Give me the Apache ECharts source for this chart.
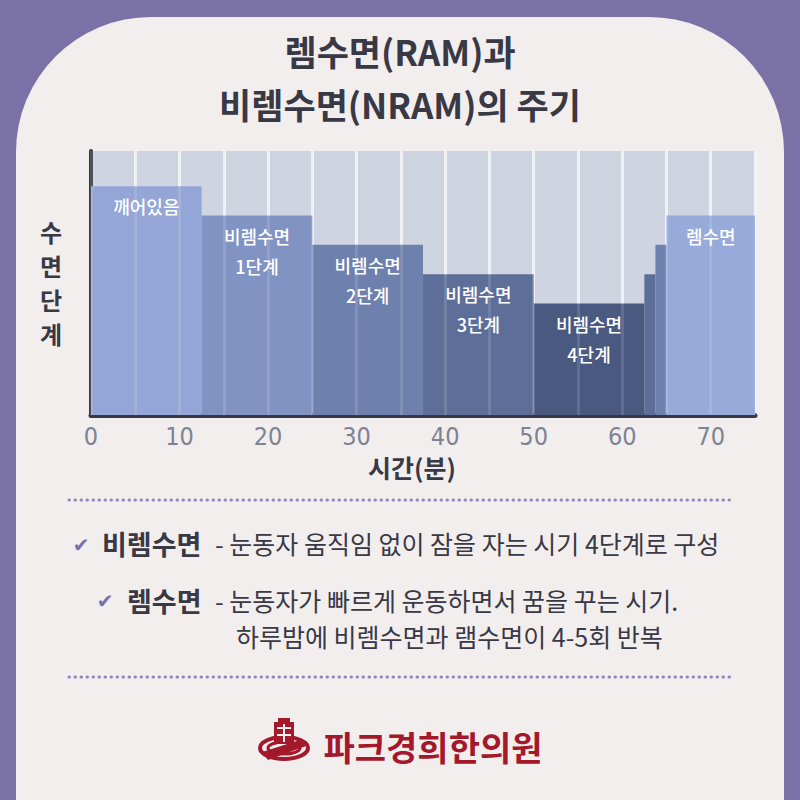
<!DOCTYPE html>
<html>
<head>
<meta charset="utf-8">
<script src="https://cdn.jsdelivr.net/npm/echarts@6/dist/echarts.min.js"></script>
<style>
  html, body { margin: 0; padding: 0; background: #7a71a7; }
  #chart { width: 800px; height: 800px; }
</style>
</head>
<body>
<div id="chart"></div>
<script>
// sleep stages over time (minutes)
var stageStart = [0, 12.5, 25, 37.5, 50, 62.5, 63.75, 65];
var stageEnd = [12.5, 25, 37.5, 50, 62.5, 63.75, 65, 75];
var stageLevel = [7.8, 6.8, 5.8, 4.8, 3.8, 4.8, 5.8, 6.8];
var stageLabel = ['깨어있음', '비렘수면\n1단계', '비렘수면\n2단계', '비렘수면\n3단계', '비렘수면\n4단계', '', '', '렘수면'];
var stageColor = ['#93a6d7', '#8193c3', '#6e80ad', '#5d6e98', '#4a5980', '#5d6e98', '#6e80ad', '#97abdb'];

var dark = '#393945';
var logoRed = '#a3192b';
var textFont = '"Noto Sans CJK KR", "Noto Sans", sans-serif';

var myChart = echarts.init(document.getElementById('chart'), null, { renderer: 'svg' });

var data = stageStart.map(function (s, i) {
    return [s, stageEnd[i], stageLevel[i]];
});

function renderItem(params, api) {
    var i = params.dataIndex;
    var topLeft = api.coord([api.value(0), api.value(2)]);
    var bottomRight = api.coord([api.value(1), 0]);
    var w = bottomRight[0] - topLeft[0];
    var children = [{
        type: 'rect',
        shape: { x: topLeft[0], y: topLeft[1], width: w, height: bottomRight[1] - topLeft[1] },
        style: { fill: stageColor[i] }
    }];
    if (stageLabel[i]) {
        children.push({
            type: 'text',
            x: topLeft[0] + w / 2,
            y: topLeft[1] + 5,
            style: {
                text: stageLabel[i],
                fill: '#ffffff',
                font: '500 18px ' + textFont,
                align: 'center',
                verticalAlign: 'top',
                lineHeight: 30
            }
        });
    }
    return { type: 'group', children: children };
}

var option = {
    backgroundColor: '#7a71a7',
    animation: false,
    grid: {
        left: 91, right: 45, top: 151, bottom: 385,
        show: true, backgroundColor: '#cfd4e1', borderWidth: 0
    },
    xAxis: [{
        type: 'value', min: 0, max: 75, interval: 5,
        axisLine: { show: true, onZero: false, lineStyle: { color: dark, width: 5 } },
        axisTick: { show: false },
        splitLine: { show: true, lineStyle: { color: '#eef0f5', width: 3 } },
        axisLabel: {
            color: '#7d8393', fontSize: 25, margin: 9,
            fontFamily: '"Liberation Sans Narrow", "DejaVu Sans Condensed", sans-serif',
            formatter: function (v) { return v % 10 === 0 ? String(v) : ''; }
        }
    }, {
        // faint grid lines drawn over the bars
        type: 'value', min: 0, max: 75, interval: 5, position: 'top', z: 5,
        axisLine: { show: false }, axisTick: { show: false }, axisLabel: { show: false },
        splitLine: { show: true, lineStyle: { color: 'rgba(255,255,255,0.13)', width: 3 } }
    }],
    yAxis: {
        type: 'value', min: 0, max: 9,
        axisLine: { show: true, lineStyle: { color: dark, width: 4 } },
        axisTick: { show: false }, axisLabel: { show: false }, splitLine: { show: false }
    },
    series: [{
        type: 'custom',
        renderItem: renderItem,
        encode: { x: [0, 1], y: 2 },
        data: data,
        z: 2
    }],
    graphic: [
        {
            type: 'rect', z: -10, silent: true,
            shape: { x: 16, y: 17, width: 768, height: 810, r: [135, 135, 0, 0] },
            style: { fill: '#f3eeee' }
        },
        {
            type: 'text', x: 400, y: 50,
            style: { text: '렘수면(RAM)과', font: 'bold 35px ' + textFont, fill: dark, align: 'center', verticalAlign: 'middle' }
        },
        {
            type: 'text', x: 400, y: 103,
            style: { text: '비렘수면(NRAM)의 주기', font: 'bold 35px ' + textFont, fill: dark, align: 'center', verticalAlign: 'middle' }
        },
        {
            type: 'text', x: 51, y: 282,
            style: { text: '수\n면\n단\n계', font: 'bold 24px ' + textFont, fill: dark, align: 'center', verticalAlign: 'middle', lineHeight: 34 }
        },
        {
            type: 'text', x: 412, y: 467,
            style: { text: '시간(분)', font: 'bold 25px ' + textFont, fill: dark, align: 'center', verticalAlign: 'middle' }
        },
        {
            type: 'line', shape: { x1: 69, y1: 500, x2: 731, y2: 500 },
            style: { stroke: '#8f86bb', lineWidth: 3, lineDash: [0.5, 5.5], lineCap: 'round' }
        },
        {
            type: 'line', shape: { x1: 69, y1: 677, x2: 731, y2: 677 },
            style: { stroke: '#8f86bb', lineWidth: 3, lineDash: [0.5, 5.5], lineCap: 'round' }
        },
        {
            type: 'text', x: 81, y: 545,
            style: { text: '✔', font: '20px "DejaVu Sans", sans-serif', fill: '#7b6fae', align: 'center', verticalAlign: 'middle' }
        },
        {
            type: 'text', x: 102, y: 543,
            style: { text: '비렘수면', font: 'bold 27px ' + textFont, fill: dark, align: 'left', verticalAlign: 'middle' }
        },
        {
            type: 'text', x: 215, y: 543,
            style: { text: '- 눈동자 움직임 없이 잠을 자는 시기 4단계로 구성', font: '25px ' + textFont, fill: dark, align: 'left', verticalAlign: 'middle' }
        },
        {
            type: 'text', x: 105, y: 601,
            style: { text: '✔', font: '20px "DejaVu Sans", sans-serif', fill: '#7b6fae', align: 'center', verticalAlign: 'middle' }
        },
        {
            type: 'text', x: 127, y: 600,
            style: { text: '렘수면', font: 'bold 27px ' + textFont, fill: dark, align: 'left', verticalAlign: 'middle' }
        },
        {
            type: 'text', x: 215, y: 600,
            style: { text: '- 눈동자가 빠르게 운동하면서 꿈을 꾸는 시기.', font: '25px ' + textFont, fill: dark, align: 'left', verticalAlign: 'middle' }
        },
        {
            type: 'text', x: 236, y: 636,
            style: { text: '하루밤에 비렘수면과 램수면이 4-5회 반복', font: '25px ' + textFont, fill: dark, align: 'left', verticalAlign: 'middle' }
        },
        // logo emblem, rough
        {
            type: 'group', x: 0, y: 0,
            children: [
                { type: 'ellipse', shape: { cx: 284, cy: 748, rx: 24, ry: 11 }, style: { fill: 'none', stroke: logoRed, lineWidth: 4 } },
                { type: 'ellipse', shape: { cx: 284, cy: 748, rx: 16, ry: 6 }, style: { fill: 'none', stroke: logoRed, lineWidth: 3 } },
                { type: 'rect', shape: { x: 274, y: 722, width: 20, height: 22 }, style: { fill: logoRed } },
                { type: 'rect', shape: { x: 278, y: 718, width: 12, height: 5 }, style: { fill: logoRed } },
                { type: 'rect', shape: { x: 277, y: 727, width: 14, height: 2 }, style: { fill: '#f3eeee' } },
                { type: 'rect', shape: { x: 277, y: 734, width: 14, height: 2 }, style: { fill: '#f3eeee' } },
                { type: 'rect', shape: { x: 283, y: 724, width: 2, height: 18 }, style: { fill: '#f3eeee' } },
                { type: 'polygon', shape: { points: [[262, 752], [300, 740], [306, 746], [268, 760]] }, style: { fill: logoRed } }
            ]
        },
        {
            type: 'text', x: 433, y: 746,
            style: { text: '파크경희한의원', font: 'bold 34px ' + textFont, fill: logoRed, align: 'center', verticalAlign: 'middle' }
        }
    ]
};

myChart.setOption(option);
</script>
</body>
</html>
